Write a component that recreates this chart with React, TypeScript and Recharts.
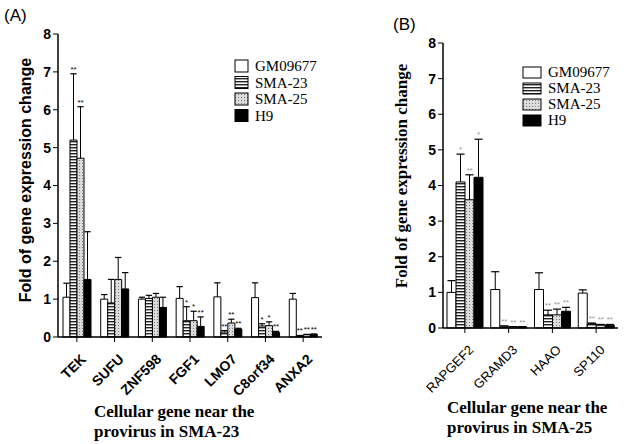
import React from 'react';
import { BarChart, Bar, XAxis, YAxis, LabelList } from 'recharts';

// panel A: genes near the provirus in SMA-23
const genesA = ['TEK', 'SUFU', 'ZNF598', 'FGF1', 'LMO7', 'C8orf34', 'ANXA2'];
const gmA = [1.05, 1.0, 1.0, 1.02, 1.06, 1.04, 1.0];
const gmSdA = [0.37, 0.12, 0.05, 0.31, 0.37, 0.39, 0.15];
const s23A = [5.2, 0.9, 1.02, 0.43, 0.13, 0.29, 0.03];
const s23SdA = [1.75, 0.62, 0.08, 0.37, 0.04, 0.06, 0.01];
const s25A = [4.72, 1.52, 1.05, 0.43, 0.37, 0.3, 0.06];
const s25SdA = [1.36, 0.58, 0.1, 0.25, 0.1, 0.1, 0.01];
const h9A = [1.52, 1.27, 0.78, 0.28, 0.21, 0.12, 0.07];
const h9SdA = [1.26, 0.43, 0.27, 0.25, 0.02, 0.03, 0.01];
const s23SigA = ['**', '', '', '*', '**', '*', '**'];
const s25SigA = ['**', '', '', '*', '**', '*', '**'];
const h9SigA = ['', '', '', '**', '**', '**', '**'];

// panel B: genes near the provirus in SMA-25
const genesB = ['RAPGEF2', 'GRAMD3', 'HAAO', 'SP110'];
const gmB = [1.0, 1.08, 1.08, 0.98];
const gmSdB = [0.33, 0.5, 0.47, 0.09];
const s23B = [4.1, 0.05, 0.37, 0.12];
const s23SdB = [0.78, 0.01, 0.13, 0.02];
const s25B = [3.6, 0.03, 0.37, 0.08];
const s25SdB = [0.7, 0.01, 0.16, 0.02];
const h9B = [4.23, 0.03, 0.47, 0.08];
const h9SdB = [1.07, 0.01, 0.11, 0.02];
const s23SigB = ['*', '**', '**', '**'];
const s25SigB = ['**', '**', '**', '**'];
const h9SigB = ['*', '**', '**', '**'];

const yTicks = [0, 1, 2, 3, 4, 5, 6, 7, 8];

const SERIES = [
  { key: 'gm', name: 'GM09677', fill: '#fff' },
  { key: 's23', name: 'SMA-23', fill: 'url(#stripes)' },
  { key: 's25', name: 'SMA-25', fill: 'url(#dots)' },
  { key: 'h9', name: 'H9', fill: '#000' },
];

const none = (n: number) => Array(n).fill('');

function buildRows(genes, vals, sds, sigs) {
  return genes.map((gene, i) => {
    const row: any = { gene };
    SERIES.forEach((s, k) => {
      row[s.key] = vals[k][i];
      row[s.key + '_sd'] = sds[k][i];
      row[s.key + '_sig'] = sigs[k][i];
    });
    return row;
  });
}

const rowsA = buildRows(
  genesA,
  [gmA, s23A, s25A, h9A],
  [gmSdA, s23SdA, s25SdA, h9SdA],
  [none(7), s23SigA, s25SigA, h9SigA]
);
const rowsB = buildRows(
  genesB,
  [gmB, s23B, s25B, h9B],
  [gmSdB, s23SdB, s25SdB, h9SdB],
  [none(4), s23SigB, s25SigB, h9SigB]
);

// upper error bar drawn as the stacked segment above each bar
const ErrShape = (props: any) => {
  const { x, y, width, height } = props;
  const cx = x + width / 2;
  const cap = width * 0.45;
  return (
    <g>
      <line x1={cx} x2={cx} y1={y + height} y2={y} stroke="#000" strokeWidth={1} />
      <line x1={cx - cap} x2={cx + cap} y1={y} y2={y} stroke="#000" strokeWidth={1.2} />
    </g>
  );
};

const RotTick = (props: any) => {
  const { x, y, payload, bold } = props;
  return (
    <g transform={`translate(${x + 3},${y + 9}) rotate(-45)`}>
      <text
        x={0}
        y={0}
        dy="0.71em"
        textAnchor="end"
        fontFamily="Liberation Sans, Arial, sans-serif"
        fontWeight={bold ? 700 : 400}
        fontSize={bold ? 14 : 13}
        fill="#000"
      >
        {payload.value}
      </text>
    </g>
  );
};

function Panel({ rows, width, top, right, yWidth, xHeight, barSize, boldTicks, sigColor }) {
  return (
    <BarChart
      width={width}
      height={444}
      data={rows}
      margin={{ top, right, left: 0, bottom: 0 }}
      barGap={0}
    >
      <XAxis
        dataKey="gene"
        interval={0}
        height={xHeight}
        tick={<RotTick bold={boldTicks} />}
        tickSize={5}
        axisLine={{ stroke: '#000', strokeWidth: 1.5 }}
        tickLine={{ stroke: '#000' }}
      />
      <YAxis
        width={yWidth}
        domain={[0, 8]}
        ticks={yTicks}
        interval={0}
        tickSize={5}
        axisLine={{ stroke: '#000', strokeWidth: 1.5 }}
        tickLine={{ stroke: '#000' }}
        tick={{ fill: '#000', fontSize: 14, fontWeight: 700, fontFamily: 'Liberation Sans, Arial, sans-serif' }}
      />
      {SERIES.map((s) => (
        <Bar
          key={s.key}
          dataKey={s.key}
          stackId={s.key}
          fill={s.fill}
          stroke="#000"
          strokeWidth={1}
          barSize={barSize}
          isAnimationActive={false}
        />
      ))}
      {SERIES.map((s) => (
        <Bar
          key={s.key + '_sd'}
          dataKey={s.key + '_sd'}
          stackId={s.key}
          shape={ErrShape}
          barSize={barSize}
          isAnimationActive={false}
        >
          <LabelList
            dataKey={s.key + '_sig'}
            position="top"
            offset={2}
            fill={sigColor}
            fontSize={8}
            fontFamily="Liberation Sans, Arial, sans-serif"
          />
        </Bar>
      ))}
    </BarChart>
  );
}

function LegendBox({ x, y, boxW, boxH, step }) {
  return (
    <g>
      {SERIES.map((s, i) => (
        <g key={s.key}>
          <rect
            x={x}
            y={y + i * step - boxH + 1}
            width={boxW}
            height={boxH}
            fill={s.fill}
            stroke="#000"
            strokeWidth={1}
          />
          <text
            x={x + boxW + 7}
            y={y + i * step}
            fontFamily="Liberation Serif, Times New Roman, serif"
            fontSize={15}
            fill="#000"
          >
            {s.name}
          </text>
        </g>
      ))}
    </g>
  );
}

export default function App() {
  const serif = 'Liberation Serif, Times New Roman, serif';
  const sans = 'Liberation Sans, Arial, sans-serif';
  return (
    <div style={{ position: 'absolute', left: 0, top: 0, width: 624, height: 444, background: '#fff' }}>
      <svg width={0} height={0} style={{ position: 'absolute' }}>
        <defs>
          <pattern id="stripes" patternUnits="userSpaceOnUse" width={4} height={3}>
            <rect width={4} height={3} fill="#fff" />
            <rect width={4} height={1.4} fill="#222" />
          </pattern>
          <pattern id="dots" patternUnits="userSpaceOnUse" width={3} height={3}>
            <rect width={3} height={3} fill="#dcdcdc" />
            <rect x={1} y={1} width={1} height={1} fill="#7a7a7a" />
          </pattern>
        </defs>
      </svg>
      <div style={{ position: 'absolute', left: 0, top: 0 }}>
        <Panel
          rows={rowsA}
          width={330}
          top={34}
          right={8}
          yWidth={58}
          xHeight={107}
          barSize={7}
          boldTicks
          sigColor="#000"
        />
      </div>
      <div style={{ position: 'absolute', left: 360, top: 0 }}>
        <Panel
          rows={rowsB}
          width={264}
          top={43}
          right={6}
          yWidth={83}
          xHeight={116}
          barSize={9}
          boldTicks={false}
          sigColor="#999"
        />
      </div>
      <svg width={624} height={444} style={{ position: 'absolute', left: 0, top: 0, pointerEvents: 'none' }}>
        <text x={4} y={21} fontFamily={sans} fontSize={17} fill="#000">(A)</text>
        <text x={393} y={30} fontFamily={sans} fontSize={17} fill="#000">(B)</text>
        <text
          x={31}
          y={180}
          transform="rotate(-90 31 180)"
          textAnchor="middle"
          fontFamily={sans}
          fontWeight={700}
          fontSize={16}
          fill="#000"
        >
          Fold of gene expression change
        </text>
        <text
          x={407}
          y={176}
          transform="rotate(-90 407 176)"
          textAnchor="middle"
          fontFamily={serif}
          fontWeight={700}
          fontSize={17}
          fill="#000"
        >
          Fold of gene expression change
        </text>
        <text x={94} y={417} fontFamily={serif} fontWeight={700} fontSize={17} fill="#000">Cellular gene near the</text>
        <text x={94} y={437} fontFamily={serif} fontWeight={700} fontSize={17} fill="#000">provirus in SMA-23</text>
        <text x={447} y={413} fontFamily={serif} fontWeight={700} fontSize={17} fill="#000">Cellular gene near the</text>
        <text x={447} y={433} fontFamily={serif} fontWeight={700} fontSize={17} fill="#000">provirus in SMA-25</text>
        <LegendBox x={235} y={71} boxW={13} boxH={12} step={16.5} />
        <LegendBox x={523} y={77} boxW={18} boxH={11} step={16} />
      </svg>
    </div>
  );
}
